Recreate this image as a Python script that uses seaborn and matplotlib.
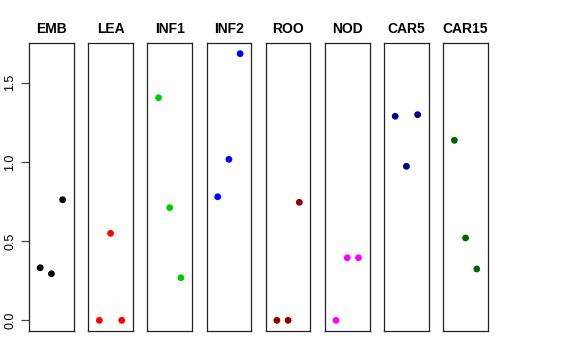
import matplotlib
matplotlib.use("Agg")
import matplotlib.pyplot as plt
import pandas as pd
import seaborn as sns

sns.set_style("white")
plt.rcParams["font.family"] = ["Liberation Sans", "DejaVu Sans"]
plt.rcParams["text.color"] = "black"
plt.rcParams["ytick.color"] = "black"

# tissue panels, three replicates each
TECIDOS = ["EMB", "LEA", "INF1", "INF2", "ROO", "NOD", "CAR5", "CAR15"]
CORES = ["#000000", "#FF0000", "#00CD00", "#0000FF",
         "#8B0000", "#FF00FF", "#00008B", "#006400"]
REPLICA = [1, 2, 3]
EMB = [0.332, 0.294, 0.761]
LEA = [0.0, 0.549, 0.0]
INF1 = [1.405, 0.711, 0.269]
INF2 = [0.780, 1.016, 1.683]
ROO = [0.0, 0.0, 0.745]
NOD = [0.0, 0.395, 0.395]
CAR5 = [1.288, 0.972, 1.298]
CAR15 = [1.136, 0.520, 0.324]
VALORES = [EMB, LEA, INF1, INF2, ROO, NOD, CAR5, CAR15]

df = pd.DataFrame({
    "tecido": [t for t in TECIDOS for _ in REPLICA],
    "rep": REPLICA * len(TECIDOS),
    "valor": [v for serie in VALORES for v in serie],
})

ymax = df["valor"].max()
pad = 0.04 * ymax

fig, axes = plt.subplots(1, len(TECIDOS), figsize=(5.76, 3.6), dpi=100,
                         sharey=True)
fig.subplots_adjust(left=29 / 576, right=488 / 576, top=1 - 43 / 360,
                    bottom=1 - 331 / 360, wspace=0.32)

for i, (ax, tecido, cor) in enumerate(zip(axes, TECIDOS, CORES)):
    sub = df[df["tecido"] == tecido]
    sns.scatterplot(data=sub, x="rep", y="valor", color=cor, s=24,
                    edgecolor="none", ax=ax, legend=False)
    ax.set_xlim(0, 4)
    ax.set_ylim(-pad, ymax + pad)
    ax.set_xticks([])
    ax.set_xlabel("")
    ax.set_ylabel("")
    ax.set_title(tecido, fontsize=10, fontweight="bold", color="black",
                 pad=7)
    for s in ax.spines.values():
        s.set_visible(True)
        s.set_color("#222222")
        s.set_linewidth(0.9)
    if i == 0:
        ax.set_yticks([0.0, 0.5, 1.0, 1.5])
        ax.set_yticklabels(["0.0", "0.5", "1.0", "1.5"], rotation=90,
                           va="center", fontsize=9)
        ax.tick_params(axis="y", left=True, length=6, width=0.9,
                       color="#444444", pad=3)
    else:
        ax.tick_params(axis="y", left=False, labelleft=False)

fig.savefig("out.png", dpi=100, facecolor="white")
